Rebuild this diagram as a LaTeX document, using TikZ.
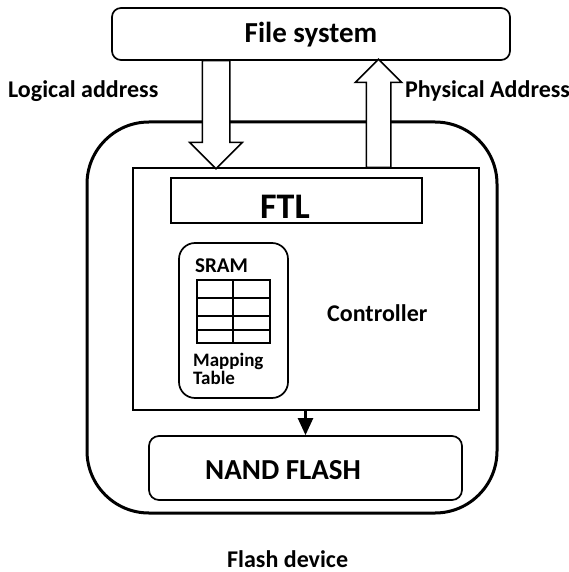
\documentclass[tikz,border=0pt]{standalone}
\usepackage{fontspec}
\setmainfont{Carlito}
\usetikzlibrary{shapes.arrows,arrows.meta}

\newcommand{\txtsize}[1]{\fontsize{#1}{#1}\selectfont}

\tikzset{
  roundbox/.style={draw, line width=1.7pt, rounded corners=#1, inner sep=0pt},
  roundbox/.default=9pt,
  plainbox/.style={draw, line width=1.5pt, inner sep=0pt},
  bigarrow/.style={single arrow, draw, line width=1.5pt, fill=white,
    inner sep=13pt, minimum width=0pt, single arrow head extend=12.5pt,
    single arrow tip angle=90, minimum height=108pt, anchor=tail},
  tag/.style={anchor=base west, inner sep=0pt, font=\bfseries\txtsize{#1}},
}

\begin{document}
\begin{tikzpicture}[x=1pt,y=-1pt]
  \useasboundingbox (0,0) rectangle (569,572);

  % host side
  \node[roundbox, minimum width=398pt, minimum height=52pt, text height=18pt,
        text depth=0pt, font=\bfseries\txtsize{29}] (fs) at (311,34) {File system};

  % the device and what sits in it
  \node[draw, line width=3pt, rounded corners=62pt, minimum width=410pt,
        minimum height=391pt] (device) at (292,317.5) {};
  \node[plainbox, minimum width=346pt, minimum height=242pt] (ctrl) at (306,289) {};
  \node[plainbox, line width=2pt, minimum width=251pt, minimum height=45pt] (ftl) at (296.5,200.5) {};
  \node[roundbox=16pt, minimum width=109pt, minimum height=155pt] (sram) at (233.5,320.5) {};
  \node[roundbox=10pt, minimum width=313pt, minimum height=64pt] (nand) at (305.5,468) {};

  % address arrows
  \node[bigarrow, rotate=-90] (logical) at (216,60) {};
  \node[bigarrow, rotate=90, inner sep=11.5pt, single arrow head extend=11pt] (physical) at (378.5,168) {};

  \draw[line width=2.3pt, -{Triangle[length=17pt,width=15pt]}] (ctrl.south -| nand.north) -- (nand.north);

  % mapping table grid
  \draw[line width=1.5pt] (197,280) rectangle (270,343);
  \foreach \y in {298,316,330}
    \draw[line width=1.5pt] (197,\y) -- (270,\y);
  \draw[line width=1.5pt] (233,280) -- (233,343);

  % labels
  \node[tag=24] (logtext) at (8,98) {Logical address};
  \node[tag=24] (phystext) at (405,98) {Physical Address};
  \node[tag=36] (ftltext) at (260,218) {FTL};
  \node[tag=21] (sramtext) at (195,272) {SRAM};
  \node[tag=19, align=left] (maptext) at (193,384) {Mapping\\[-1pt]Table};
  \node[tag=24] (ctrltext) at (327,321) {Controller};
  \node[tag=29] (nandtext) at (205,479) {NAND FLASH};
  \node[tag=24] (devtext) at (227,567) {Flash device};
\end{tikzpicture}
\end{document}
